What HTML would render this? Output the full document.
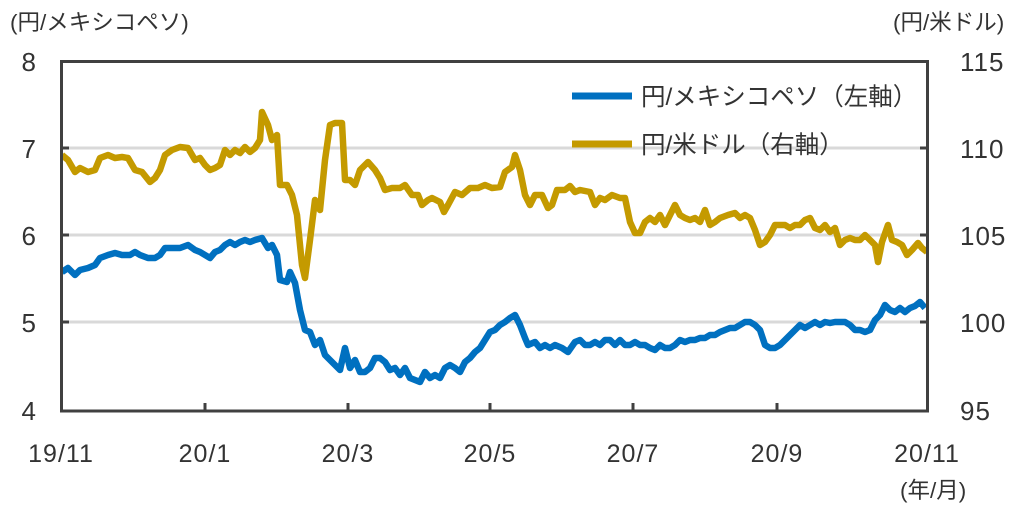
<!DOCTYPE html>
<html><head><meta charset="utf-8"><style>
body{margin:0;background:#fff}
svg{display:block}
text{font-family:"Liberation Sans","Noto Sans CJK JP",sans-serif;fill:#333}
</style></head><body>
<svg width="1029" height="505" viewBox="0 0 1029 505">
<g stroke="#d9d9d9" stroke-width="3">
<line x1="62" y1="148" x2="927" y2="148"/><line x1="62" y1="235" x2="927" y2="235"/><line x1="62" y1="322" x2="927" y2="322"/>
</g>
<polyline fill="none" stroke="#c49a00" stroke-width="6.5" stroke-linejoin="round" points="62,155 68,160 75,172 80,168 88,172 95,170 100,158 108,155 115,158 122,157 128,158 135,170 142,172 150,182 155,178 160,170 165,155 172,150 180,147 188,148 195,160 200,158 205,165 210,170 215,168 220,165 225,150 230,155 235,150 240,153 245,147 250,152 255,148 260,140 262,112 268,125 272,140 277,135 280,185 287,185 292,195 297,215 302,265 305,278 310,240 315,200 320,210 325,160 330,125 335,123 342,123 345,180 350,180 355,185 360,170 368,162 375,170 380,178 385,190 392,188 400,188 405,185 412,195 418,195 422,205 428,200 432,198 440,202 444,212 448,205 455,192 462,195 470,188 478,188 485,185 492,188 500,187 505,172 512,167 515,155 520,170 525,195 530,205 535,195 542,195 548,208 552,205 557,190 565,190 570,186 575,192 580,190 590,192 595,205 600,198 605,200 612,195 620,198 625,198 630,222 635,233 640,233 645,222 650,218 655,222 660,215 665,225 670,215 675,205 680,215 685,218 690,220 695,218 700,222 705,210 710,225 715,222 720,218 728,215 735,213 740,218 745,215 750,218 755,230 760,245 765,242 770,235 775,225 780,225 785,225 790,228 795,225 800,225 805,220 810,218 815,228 820,230 825,225 830,232 835,228 840,245 845,240 850,238 855,240 860,240 865,235 870,240 875,245 878,262 882,242 888,225 892,240 897,242 902,245 907,255 912,250 918,243 922,248 927,252"/>
<polyline fill="none" stroke="#0070c0" stroke-width="6.5" stroke-linejoin="round" points="62,272 68,268 75,275 80,270 88,268 95,265 100,258 108,255 115,253 122,255 130,255 135,252 140,255 148,258 155,258 160,255 165,248 172,248 180,248 188,245 195,250 200,252 205,255 210,258 215,252 220,250 225,245 230,242 235,245 240,242 245,240 250,242 255,240 262,238 268,248 272,245 277,255 280,280 287,282 290,272 295,283 300,310 305,330 310,332 315,345 320,340 325,355 330,360 335,365 340,370 345,348 350,368 355,360 360,372 365,372 370,368 375,358 380,358 385,362 390,370 395,368 400,375 405,368 410,378 415,380 420,382 425,372 430,378 435,375 440,378 445,368 450,365 455,368 460,372 465,362 470,358 475,352 480,348 485,340 490,332 495,330 500,325 505,322 510,318 515,315 520,325 525,338 528,345 535,342 540,348 545,345 550,348 555,345 562,348 568,352 575,342 580,340 585,345 590,345 595,342 600,345 605,340 610,340 615,345 620,340 625,345 630,345 635,342 640,345 645,345 650,348 655,350 660,345 665,348 670,348 675,345 680,340 685,342 690,340 695,340 700,338 705,338 710,335 715,335 720,332 725,330 730,328 735,328 740,325 745,322 750,322 755,325 760,330 765,345 770,348 775,348 780,345 785,340 790,335 795,330 800,325 805,328 810,325 815,322 820,325 825,322 830,323 835,322 840,322 845,322 850,325 855,330 860,330 865,332 870,330 875,320 880,315 885,305 890,310 895,312 900,308 905,312 910,308 915,306 920,302 925,308"/>
<rect x="61.5" y="61.5" width="866" height="349.5" fill="none" stroke="#404040" stroke-width="3"/>
<g stroke="#404040" stroke-width="3">
<line x1="62" y1="148" x2="69" y2="148"/><line x1="62" y1="235" x2="69" y2="235"/><line x1="62" y1="322" x2="69" y2="322"/>
<line x1="927" y1="148" x2="920" y2="148"/><line x1="927" y1="235" x2="920" y2="235"/><line x1="927" y1="322" x2="920" y2="322"/>
<line x1="205" y1="411" x2="205" y2="403"/><line x1="348" y1="411" x2="348" y2="403"/><line x1="490" y1="411" x2="490" y2="403"/><line x1="633" y1="411" x2="633" y2="403"/><line x1="777" y1="411" x2="777" y2="403"/>
</g>
<g font-size="26" text-anchor="end">
<text x="36" y="71">8</text><text x="36" y="158">7</text><text x="36" y="245">6</text><text x="36" y="332">5</text><text x="36" y="420">4</text>
</g>
<g font-size="26" letter-spacing="1">
<text x="960" y="71">115</text><text x="960" y="158">110</text><text x="960" y="245">105</text><text x="960" y="332">100</text><text x="960" y="420">95</text>
</g>
<g font-size="25" text-anchor="middle" letter-spacing="1">
<text x="61" y="462">19/11</text><text x="205" y="462">20/1</text><text x="348" y="462">20/3</text><text x="490" y="462">20/5</text><text x="633" y="462">20/7</text><text x="777" y="462">20/9</text><text x="927" y="462">20/11</text>
</g>
<text x="10" y="30" font-size="22.5">(円/メキシコペソ)</text>
<text x="893" y="30" font-size="22.5">(円/米ドル)</text>
<text x="900" y="498" font-size="22.5">(年/月)</text>
<line x1="572" y1="96" x2="632" y2="96" stroke="#0070c0" stroke-width="7"/>
<line x1="572" y1="144" x2="632" y2="144" stroke="#c49a00" stroke-width="7"/>
<text x="641" y="105" font-size="24.5">円/メキシコペソ（左軸）</text>
<text x="641" y="153" font-size="24.5">円/米ドル（右軸）</text>
</svg>
</body></html>
